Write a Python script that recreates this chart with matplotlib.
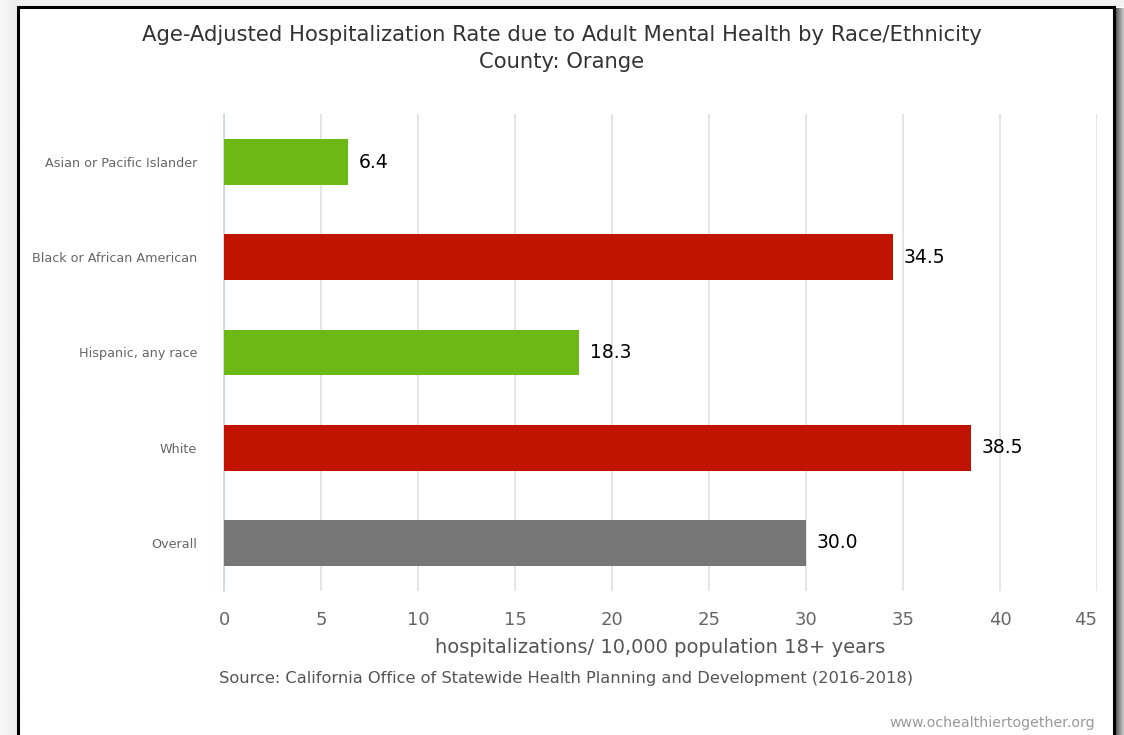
import matplotlib.pyplot as plt
import numpy as np
from matplotlib.patches import Rectangle

# data
categories = ["Asian or Pacific Islander", "Black or African American",
              "Hispanic, any race", "White", "Overall"]
values = [6.4, 34.5, 18.3, 38.5, 30.0]
bar_colors = ["#6cb814", "#c01400", "#6cb814", "#c01400", "#777777"]
x_ticks = list(range(0, 50, 5))

W, H = 1124, 735
fig = plt.figure(figsize=(W / 100, H / 100), dpi=100)
fig.patch.set_facecolor("white")

# background + frame shadow
bg = fig.add_axes([0, 0, 1, 1], zorder=-10)
bg.axis("off")
grad_l = np.linspace(0.97, 0.93, 32).reshape(1, -1)
bg.imshow(grad_l, cmap="gray", vmin=0, vmax=1, extent=[0, 17, H, 0], aspect="auto")
grad_r = np.linspace(0.3, 0.8, 32).reshape(1, -1)
bg.imshow(grad_r, cmap="gray", vmin=0, vmax=1, extent=[1115, W, H, 8], aspect="auto")
bg.add_patch(Rectangle((17, 0), 1107, 7, color="#f2f2f2", lw=0))
bg.add_patch(Rectangle((18, 7), 1096, 740, facecolor="white", edgecolor="black", lw=2.2))
bg.set_xlim(0, W)
bg.set_ylim(H, 0)

ax = fig.add_axes([224 / W, 1 - 590.6 / H, (1097 - 224) / W, (590.6 - 114.4) / H])
y = np.arange(len(categories))
ax.barh(y, values, height=0.48, color=bar_colors, zorder=3)
for yi, v in zip(y, values):
    ax.text(v + 0.55, yi, f"{v:.1f}", va="center", ha="left", fontsize=13.5,
            color="black", zorder=4)

ax.set_xlim(0, 45)
ax.set_ylim(len(categories) - 0.5, -0.5)
ax.set_xticks(x_ticks)
ax.set_xticklabels([str(t) for t in x_ticks], fontsize=13, color="#666666")
ax.get_xticklabels()[-1].set_ha("right")
ax.set_yticks(y)
ax.set_yticklabels(categories, fontsize=9.2, color="#666666")
ax.tick_params(axis="both", length=0)
ax.tick_params(axis="x", pad=15)
ax.tick_params(axis="y", pad=19.5)
ax.grid(axis="x", color="#e0e0e0", lw=1.2, zorder=0)
for s in ["top", "right", "bottom"]:
    ax.spines[s].set_visible(False)
ax.spines["left"].set_color("#ccd6eb")
ax.spines["left"].set_linewidth(1.2)
ax.set_facecolor("none")

ax.set_xlabel("hospitalizations/ 10,000 population 18+ years", fontsize=14,
              color="#555555", labelpad=6)

fig.text(0.5, 1 - 35 / H, "Age-Adjusted Hospitalization Rate due to Adult Mental Health by Race/Ethnicity",
         ha="center", va="center", fontsize=15.2, color="#333333")
fig.text(0.5, 1 - 62 / H, "County: Orange", ha="center", va="center",
         fontsize=15.2, color="#333333")
fig.text(566 / W, 1 - 679 / H,
         "Source: California Office of Statewide Health Planning and Development (2016-2018)",
         ha="center", va="center", fontsize=11.7, color="#555555")
fig.text(1095 / W, 1 - 723 / H, "www.ochealthiertogether.org", ha="right",
         va="center", fontsize=10.2, color="#999999")

fig.savefig("out.png", dpi=100)
